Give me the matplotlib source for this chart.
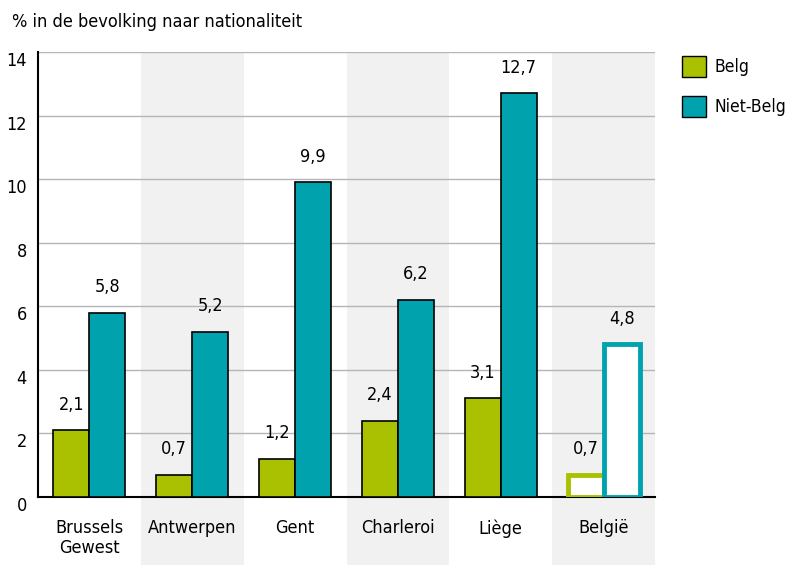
import numpy as np
import matplotlib.pyplot as plt
from matplotlib.patches import Patch

plt.rcParams['font.family'] = ['DejaVu Sans']
plt.rcParams['font.stretch'] = 'condensed'

steden = ['Brussels\nGewest', 'Antwerpen', 'Gent', 'Charleroi', 'Liège', 'België']
belg = [2.1, 0.7, 1.2, 2.4, 3.1, 0.7]
niet_belg = [5.8, 5.2, 9.9, 6.2, 12.7, 4.8]

groen = '#a9c100'
blauw = '#00a3ad'

fig = plt.figure(figsize=(7.94, 5.65), dpi=100)
ax = fig.add_axes([38/794, 1-497/565, 617/794, 445/565])

x = np.arange(len(steden))
w = 0.35

# grijze banden achter elke tweede stad
for i in range(1, len(steden), 2):
    ax.axvspan(i-0.5, i+0.5, ymin=-68/445, ymax=1, color='#f1f1f1', zorder=0, clip_on=False, lw=0)

for yy in range(2, 15, 2):
    ax.axhline(yy, color='#b5b5b5', lw=1, zorder=1)

n = len(steden) - 1
ax.bar(x[:n]-w/2, belg[:n], w, color=groen, edgecolor='black', lw=1.2, zorder=3)
ax.bar(x[:n]+w/2, niet_belg[:n], w, color=blauw, edgecolor='black', lw=1.2, zorder=3)
# België: enkel omlijning
ax.bar(x[n]-w/2, belg[n], w, color='white', edgecolor=groen, lw=3.5, zorder=3)
ax.bar(x[n]+w/2, niet_belg[n], w, color='white', edgecolor=blauw, lw=3.5, zorder=3)

for i in range(len(steden)):
    ax.annotate(f'{belg[i]:.1f}'.replace('.', ','), (x[i]-w/2, belg[i]), xytext=(0, 12),
                textcoords='offset points', ha='center', va='bottom', fontsize=13)
    ax.annotate(f'{niet_belg[i]:.1f}'.replace('.', ','), (x[i]+w/2, niet_belg[i]), xytext=(0, 12),
                textcoords='offset points', ha='center', va='bottom', fontsize=13)

ax.set_xlim(-0.5, len(steden)-0.5)
ax.set_ylim(0, 14)
ax.set_yticks(range(0, 15, 2))
ax.set_xticks(x)
ax.set_xticklabels(steden, fontsize=13, linespacing=1.1)
ax.tick_params(axis='y', length=0, labelsize=13, pad=8)
ax.tick_params(axis='x', length=0, pad=16)
for lbl in ax.get_yticklabels():
    lbl.set_verticalalignment('top')
for s in ['top', 'right']:
    ax.spines[s].set_visible(False)
ax.spines['left'].set_linewidth(1.5)
ax.spines['bottom'].set_linewidth(1.5)
ax.set_facecolor('none')

fig.text(12/794, 1-22/565, '% in de bevolking naar nationaliteit', fontsize=13, va='center')

handles = [Patch(facecolor=groen, edgecolor='black', label='Belg'),
           Patch(facecolor=blauw, edgecolor='black', label='Niet-Belg')]
fig.legend(handles=handles, loc='upper left', bbox_to_anchor=(666/794, 1-40/565), frameon=False,
           fontsize=12.5, handlelength=1.4, handleheight=1.5, labelspacing=1.1, handletextpad=0.5)

fig.savefig('out.png', dpi=100)
